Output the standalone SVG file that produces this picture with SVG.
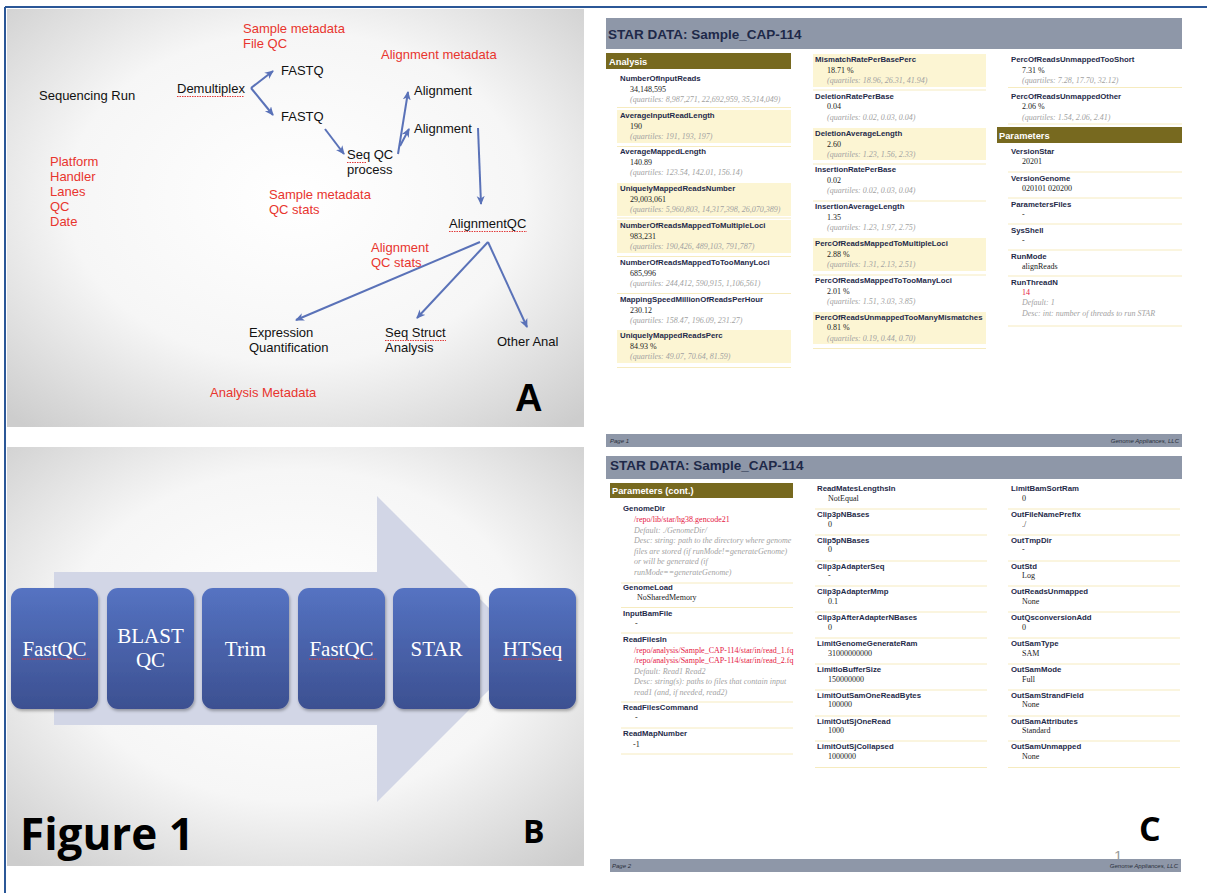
<svg xmlns="http://www.w3.org/2000/svg" width="1207" height="893" viewBox="0 0 1207 893">
<defs>
<radialGradient id="slide" cx="50%" cy="45%" r="72%">
<stop offset="0" stop-color="#ffffff"/>
<stop offset="0.55" stop-color="#f6f6f6"/>
<stop offset="1" stop-color="#cdcdcd"/>
</radialGradient>
<linearGradient id="box" x1="0" y1="0" x2="0" y2="1">
<stop offset="0" stop-color="#5573c2"/>
<stop offset="1" stop-color="#3c5091"/>
</linearGradient>
<marker id="ah" markerUnits="userSpaceOnUse" markerWidth="12" markerHeight="10" refX="8" refY="4" orient="auto">
<path d="M0,0 L9,4 L0,8 L2.5,4 z" fill="#5a72b8"/>
</marker>
<filter id="sh" x="-10%" y="-10%" width="130%" height="130%">
<feDropShadow dx="1" dy="2" stdDeviation="1.5" flood-color="#000" flood-opacity="0.3"/>
</filter>
</defs>
<style>
.ta{font-family:"Liberation Sans",Arial,sans-serif;font-size:13px;fill:#111}
.tr{font-family:"Liberation Sans",Arial,sans-serif;font-size:13px;fill:#e8352e}
.conn{stroke:#5a72b8;stroke-width:2;fill:none;marker-end:url(#ah)}
.sq{stroke:#e23a3a;stroke-width:1;stroke-dasharray:1.5 1;fill:none}
.bx{fill:url(#box);filter:url(#sh)}
.bt{font-family:"Liberation Serif","Times New Roman",serif;font-size:21px;fill:#ffffff;text-anchor:middle}
.big{font-family:"Open Sans","Liberation Sans",sans-serif;font-weight:700;fill:#000}
.bar{fill:#8e97a8}
.ttl{font-family:"Liberation Sans",Arial,sans-serif;font-weight:bold;font-size:13.5px;fill:#1e2949}
.sec{fill:#77691f}
.st{font-family:"Liberation Sans",Arial,sans-serif;font-weight:bold;font-size:9.3px;fill:#ffffff}
.hl{fill:#fcf5d3}
.sep{stroke:#f6ebbf;stroke-width:1}
.l{font-family:"Liberation Sans",Arial,sans-serif;font-weight:bold;font-size:7.8px;fill:#1f2b4a}
.v{font-family:"Liberation Serif","Times New Roman",serif;font-size:8px;fill:#222}
.r{font-family:"Liberation Serif","Times New Roman",serif;font-size:8px;fill:#e5163f}
.q{font-family:"Liberation Serif","Times New Roman",serif;font-style:italic;font-size:8px;fill:#a2a2a2}
.ft{font-family:"Liberation Sans",Arial,sans-serif;font-style:italic;font-size:6px;fill:#2a2f3a}
</style>

<rect x="0" y="0" width="1207" height="893" fill="#ffffff"/>
<line x1="5" y1="7" x2="1207" y2="7" stroke="#2b5797" stroke-width="2"/>
<line x1="5" y1="7" x2="5" y2="893" stroke="#2b5797" stroke-width="2"/>

<!-- Panel A -->
<g id="panelA">
<rect x="7" y="9" width="577" height="418" fill="url(#slide)"/>
<g id="a-sample-meta"><text class="tr" x="243" y="33">Sample metadata</text><text class="tr" x="243" y="48">File QC</text></g>
<g id="a-align-meta"><text class="tr" x="381" y="59">Alignment metadata</text></g>
<g id="a-seqrun"><text class="ta" x="39" y="100">Sequencing Run</text></g>
<g id="a-demux"><text class="ta" x="177" y="93">Demultiplex</text><path class="sq" d="M177,96.5 H244"/></g>
<g id="a-fastq1"><text class="ta" x="281" y="75">FASTQ</text></g>
<g id="a-fastq2"><text class="ta" x="281" y="121">FASTQ</text></g>
<g id="a-align1"><text class="ta" x="414" y="95">Alignment</text></g>
<g id="a-align2"><text class="ta" x="414" y="133">Alignment</text></g>
<g id="a-seqqc"><text class="ta" x="347" y="159">Seq QC</text><text class="ta" x="347" y="174">process</text><path class="sq" d="M347,162.5 H366"/></g>
<g id="a-platform"><text class="tr" x="50" y="166">Platform</text><text class="tr" x="50" y="181">Handler</text><text class="tr" x="50" y="196">Lanes</text><text class="tr" x="50" y="211">QC</text><text class="tr" x="50" y="226">Date</text></g>
<g id="a-sample-qc"><text class="tr" x="269" y="199">Sample metadata</text><text class="tr" x="269" y="214">QC stats</text></g>
<g id="a-alignqc"><text class="ta" x="449" y="228">AlignmentQC</text><path class="sq" d="M449,231.5 H527"/></g>
<g id="a-align-qc-stats"><text class="tr" x="371" y="252">Alignment</text><text class="tr" x="371" y="267">QC stats</text></g>
<g id="a-expr"><text class="ta" x="249" y="337">Expression</text><text class="ta" x="249" y="352">Quantification</text></g>
<g id="a-seqstruct"><text class="ta" x="385" y="337">Seq Struct</text><text class="ta" x="385" y="352">Analysis</text><path class="sq" d="M385,340.5 H446"/></g>
<g id="a-other"><text class="ta" x="497" y="346">Other Anal</text></g>
<g id="a-analysis-meta"><text class="tr" x="210" y="397">Analysis Metadata</text></g>
<text x="515" y="411" font-family="Liberation Sans, Arial, sans-serif" font-weight="bold" font-size="38" fill="#000">A</text>
</g>

<g id="connectors">
<line class="conn" x1="251" y1="88" x2="273" y2="71"/>
<line class="conn" x1="251" y1="88" x2="273" y2="115"/>
<line class="conn" x1="325" y1="129" x2="344" y2="154"/>
<line class="conn" x1="398" y1="154" x2="408" y2="92"/>
<line class="conn" x1="400" y1="146" x2="409" y2="129"/>
<line class="conn" x1="478" y1="128" x2="481" y2="204"/>
<line class="conn" x1="480" y1="242" x2="296" y2="320"/>
<line class="conn" x1="488" y1="242" x2="417" y2="318"/>
<line class="conn" x1="488" y1="242" x2="527" y2="327"/>
</g>

<!-- Panel B -->
<g id="panelB">
<rect x="7" y="447" width="577" height="419" fill="url(#slide)"/>
<polygon points="54,572 377,572 377,496 530,649 377,802 377,725 54,725" fill="#d2d6e6"/>
<g id="b-fastqc1"><rect class="bx" x="11" y="588" width="87" height="121" rx="11"/><text class="bt" x="54.5" y="656">FastQC</text><path class="sq" d="M22,659 H90"/></g>
<g id="b-blast"><rect class="bx" x="107" y="588" width="87" height="121" rx="11"/><text class="bt" x="150.5" y="643">BLAST</text><text class="bt" x="150.5" y="667">QC</text></g>
<g id="b-trim"><rect class="bx" x="202" y="588" width="87" height="121" rx="11"/><text class="bt" x="245.5" y="656">Trim</text></g>
<g id="b-fastqc2"><rect class="bx" x="298" y="588" width="87" height="121" rx="11"/><text class="bt" x="341.5" y="656">FastQC</text><path class="sq" d="M309,659 H377"/></g>
<g id="b-star"><rect class="bx" x="393" y="588" width="87" height="121" rx="11"/><text class="bt" x="436.5" y="656">STAR</text></g>
<g id="b-htseq"><rect class="bx" x="489" y="588" width="87" height="121" rx="11"/><text class="bt" x="532.5" y="656">HTSeq</text><path class="sq" d="M503,659 H563"/></g>
<text class="big" x="20" y="850" font-size="44">Figure 1</text>
<text class="big" x="523" y="843" font-size="32">B</text>
</g>

<!-- Panel C page 1 -->
<g id="panelC">
<rect class="bar" x="606" y="18" width="576" height="31"/>
<text class="ttl" x="608" y="39">STAR DATA: Sample_CAP-114</text>
<rect class="sec" x="606" y="53" width="185" height="16"/>
<text class="st" x="609" y="64.5">Analysis</text>

<g id="c1">
<rect class="hl" x="617" y="110" width="174" height="33"/>
<rect class="hl" x="617" y="183" width="174" height="33"/>
<rect class="hl" x="617" y="220" width="174" height="33"/>
<rect class="hl" x="617" y="330" width="174" height="33"/>
<line class="sep" x1="617" y1="107.5" x2="791" y2="107.5"/>
<line class="sep" x1="617" y1="146.5" x2="791" y2="146.5"/>
<line class="sep" x1="617" y1="218" x2="791" y2="218"/>
<line class="sep" x1="617" y1="256.5" x2="791" y2="256.5"/>
<line class="sep" x1="617" y1="293.5" x2="791" y2="293.5"/>
<line class="sep" x1="617" y1="367.5" x2="791" y2="367.5"/>
<text class="l" x="620" y="81">NumberOfInputReads</text><text class="v" x="630" y="91.5">34,148,595</text><text class="q" x="630" y="102">(quartiles: 8,987,271, 22,692,959, 35,314,049)</text>
<text class="l" x="620" y="118">AverageInputReadLength</text><text class="v" x="630" y="128.5">190</text><text class="q" x="630" y="139">(quartiles: 191, 193, 197)</text>
<text class="l" x="620" y="154">AverageMappedLength</text><text class="v" x="630" y="164.5">140.89</text><text class="q" x="630" y="175">(quartiles: 123.54, 142.01, 156.14)</text>
<text class="l" x="620" y="191">UniquelyMappedReadsNumber</text><text class="v" x="630" y="201.5">29,003,061</text><text class="q" x="630" y="212">(quartiles: 5,960,803, 14,317,398, 26,070,389)</text>
<text class="l" x="620" y="228">NumberOfReadsMappedToMultipleLoci</text><text class="v" x="630" y="238.5">983,231</text><text class="q" x="630" y="249">(quartiles: 190,426, 489,103, 791,787)</text>
<text class="l" x="620" y="265">NumberOfReadsMappedToTooManyLoci</text><text class="v" x="630" y="275.5">685,996</text><text class="q" x="630" y="286">(quartiles: 244,412, 590,915, 1,106,561)</text>
<text class="l" x="620" y="302">MappingSpeedMillionOfReadsPerHour</text><text class="v" x="630" y="312.5">230.12</text><text class="q" x="630" y="323">(quartiles: 158.47, 196.09, 231.27)</text>
<text class="l" x="620" y="338">UniquelyMappedReadsPerc</text><text class="v" x="630" y="348.5">84.93 %</text><text class="q" x="630" y="359">(quartiles: 49.07, 70.64, 81.59)</text>
</g>

<g id="c2">
<rect class="hl" x="813" y="54" width="173" height="33"/>
<rect class="hl" x="813" y="128" width="173" height="32"/>
<rect class="hl" x="813" y="238" width="173" height="33"/>
<rect class="hl" x="813" y="312" width="173" height="32"/>
<line class="sep" x1="813" y1="90" x2="986" y2="90"/>
<line class="sep" x1="813" y1="164" x2="986" y2="164"/>
<line class="sep" x1="813" y1="201" x2="986" y2="201"/>
<line class="sep" x1="813" y1="275" x2="986" y2="275"/>
<line class="sep" x1="813" y1="348.5" x2="986" y2="348.5"/>
<text class="l" x="815" y="62">MismatchRatePerBasePerc</text><text class="v" x="827" y="72.5">18.71 %</text><text class="q" x="827" y="83">(quartiles: 18.96, 26.31, 41.94)</text>
<text class="l" x="815" y="98.5">DeletionRatePerBase</text><text class="v" x="827" y="109">0.04</text><text class="q" x="827" y="119.5">(quartiles: 0.02, 0.03, 0.04)</text>
<text class="l" x="815" y="136">DeletionAverageLength</text><text class="v" x="827" y="146.5">2.60</text><text class="q" x="827" y="157">(quartiles: 1.23, 1.56, 2.33)</text>
<text class="l" x="815" y="172">InsertionRatePerBase</text><text class="v" x="827" y="182.5">0.02</text><text class="q" x="827" y="193">(quartiles: 0.02, 0.03, 0.04)</text>
<text class="l" x="815" y="209">InsertionAverageLength</text><text class="v" x="827" y="219.5">1.35</text><text class="q" x="827" y="230">(quartiles: 1.23, 1.97, 2.75)</text>
<text class="l" x="815" y="246">PercOfReadsMappedToMultipleLoci</text><text class="v" x="827" y="256.5">2.88 %</text><text class="q" x="827" y="267">(quartiles: 1.31, 2.13, 2.51)</text>
<text class="l" x="815" y="283">PercOfReadsMappedToTooManyLoci</text><text class="v" x="827" y="293.5">2.01 %</text><text class="q" x="827" y="304">(quartiles: 1.51, 3.03, 3.85)</text>
<text class="l" x="815" y="319.5">PercOfReadsUnmappedTooManyMismatches</text><text class="v" x="827" y="330">0.81 %</text><text class="q" x="827" y="340.5">(quartiles: 0.19, 0.44, 0.70)</text>
</g>

<g id="c3">
<line class="sep" x1="1008" y1="87.5" x2="1182" y2="87.5"/>
<line class="sep" x1="1008" y1="124" x2="1182" y2="124"/>
<line class="sep" x1="1008" y1="172" x2="1182" y2="172"/>
<line class="sep" x1="1008" y1="198" x2="1182" y2="198"/>
<line class="sep" x1="1008" y1="224" x2="1182" y2="224"/>
<line class="sep" x1="1008" y1="250" x2="1182" y2="250"/>
<line class="sep" x1="1008" y1="276" x2="1182" y2="276"/>
<line class="sep" x1="1008" y1="326" x2="1182" y2="326"/>
<text class="l" x="1011" y="62">PercOfReadsUnmappedTooShort</text><text class="v" x="1022" y="72.5">7.31 %</text><text class="q" x="1022" y="83">(quartiles: 7.28, 17.70, 32.12)</text>
<text class="l" x="1011" y="98.5">PercOfReadsUnmappedOther</text><text class="v" x="1022" y="109">2.06 %</text><text class="q" x="1022" y="119.5">(quartiles: 1.54, 2.06, 2.41)</text>
<rect class="sec" x="997" y="127" width="185" height="16"/>
<text class="st" x="999" y="138.5">Parameters</text>
<text class="l" x="1011" y="154">VersionStar</text><text class="v" x="1022" y="164">20201</text>
<text class="l" x="1011" y="181">VersionGenome</text><text class="v" x="1022" y="191">020101 020200</text>
<text class="l" x="1011" y="207">ParametersFiles</text><text class="v" x="1022" y="217">-</text>
<text class="l" x="1011" y="232.5">SysShell</text><text class="v" x="1022" y="242.5">-</text>
<text class="l" x="1011" y="258.5">RunMode</text><text class="v" x="1022" y="268.5">alignReads</text>
<text class="l" x="1011" y="284.5">RunThreadN</text><text class="r" x="1022" y="294.5">14</text><text class="q" x="1022" y="305">Default: 1</text><text class="q" x="1022" y="315.5">Desc: int: number of threads to run STAR</text>
</g>

<rect class="bar" x="606" y="434" width="576" height="13"/>
<text class="ft" x="610" y="443">Page 1</text>
<text class="ft" x="1179" y="443" text-anchor="end">Genome Appliances, LLC</text>

<!-- page 2 -->
<rect class="bar" x="606" y="456" width="576" height="23"/>
<text class="ttl" x="610" y="470">STAR DATA: Sample_CAP-114</text>
<rect class="sec" x="610" y="483" width="183" height="15"/>
<text class="st" x="612" y="494">Parameters (cont.)</text>

<g id="c4">
<line class="sep" x1="621" y1="583" x2="793" y2="583"/>
<line class="sep" x1="621" y1="607.5" x2="793" y2="607.5"/>
<line class="sep" x1="621" y1="633" x2="793" y2="633"/>
<line class="sep" x1="621" y1="702" x2="793" y2="702"/>
<line class="sep" x1="621" y1="728" x2="793" y2="728"/>
<line class="sep" x1="621" y1="754" x2="793" y2="754"/>
<text class="l" x="623" y="511">GenomeDir</text>
<text class="r" x="634" y="522">/repo/lib/star/hg38.gencode21</text>
<text class="q" x="634" y="532.5">Default: ./GenomeDir/</text>
<text class="q" x="634" y="543">Desc: string: path to the directory where genome</text>
<text class="q" x="634" y="553.5">files are stored (if runMode!=generateGenome)</text>
<text class="q" x="634" y="564">or will be generated (if</text>
<text class="q" x="634" y="574.5">runMode==generateGenome)</text>
<text class="l" x="623" y="590">GenomeLoad</text><text class="v" x="637" y="600">NoSharedMemory</text>
<text class="l" x="623" y="616">InputBamFile</text><text class="v" x="635" y="625.5">-</text>
<text class="l" x="623" y="642">ReadFilesIn</text>
<text class="r" x="634" y="652.5">/repo/analysis/Sample_CAP-114/star/in/read_1.fq</text>
<text class="r" x="634" y="663">/repo/analysis/Sample_CAP-114/star/in/read_2.fq</text>
<text class="q" x="634" y="673.5">Default: Read1 Read2</text>
<text class="q" x="634" y="684">Desc: string(s): paths to files that contain input</text>
<text class="q" x="634" y="694.5">read1 (and, if needed, read2)</text>
<text class="l" x="623" y="710">ReadFilesCommand</text><text class="v" x="635" y="719.5">-</text>
<text class="l" x="623" y="736">ReadMapNumber</text><text class="v" x="633" y="746.5">-1</text>
</g>

<g id="c5">
<line class="sep" x1="815" y1="509" x2="987" y2="509"/>
<line class="sep" x1="815" y1="535" x2="987" y2="535"/>
<line class="sep" x1="815" y1="561" x2="987" y2="561"/>
<line class="sep" x1="815" y1="586" x2="987" y2="586"/>
<line class="sep" x1="815" y1="612" x2="987" y2="612"/>
<line class="sep" x1="815" y1="638" x2="987" y2="638"/>
<line class="sep" x1="815" y1="664" x2="987" y2="664"/>
<line class="sep" x1="815" y1="690" x2="987" y2="690"/>
<line class="sep" x1="815" y1="716" x2="987" y2="716"/>
<line class="sep" x1="815" y1="741" x2="987" y2="741"/>
<line class="sep" x1="815" y1="767.5" x2="987" y2="767.5"/>
<text class="l" x="817" y="491">ReadMatesLengthsIn</text><text class="v" x="828" y="500.5">NotEqual</text>
<text class="l" x="817" y="517">Clip3pNBases</text><text class="v" x="828" y="526.5">0</text>
<text class="l" x="817" y="542.5">Clip5pNBases</text><text class="v" x="828" y="552">0</text>
<text class="l" x="817" y="568.5">Clip3pAdapterSeq</text><text class="v" x="828" y="578">-</text>
<text class="l" x="817" y="594">Clip3pAdapterMmp</text><text class="v" x="828" y="603.5">0.1</text>
<text class="l" x="817" y="620">Clip3pAfterAdapterNBases</text><text class="v" x="828" y="629.5">0</text>
<text class="l" x="817" y="646">LimitGenomeGenerateRam</text><text class="v" x="828" y="655.5">31000000000</text>
<text class="l" x="817" y="672">LimitIoBufferSize</text><text class="v" x="828" y="681.5">150000000</text>
<text class="l" x="817" y="697.5">LimitOutSamOneReadBytes</text><text class="v" x="828" y="707">100000</text>
<text class="l" x="817" y="723.5">LimitOutSjOneRead</text><text class="v" x="828" y="733">1000</text>
<text class="l" x="817" y="749">LimitOutSjCollapsed</text><text class="v" x="828" y="758.5">1000000</text>
</g>

<g id="c6">
<line class="sep" x1="1008" y1="509" x2="1180" y2="509"/>
<line class="sep" x1="1008" y1="535" x2="1180" y2="535"/>
<line class="sep" x1="1008" y1="561" x2="1180" y2="561"/>
<line class="sep" x1="1008" y1="586" x2="1180" y2="586"/>
<line class="sep" x1="1008" y1="612" x2="1180" y2="612"/>
<line class="sep" x1="1008" y1="638" x2="1180" y2="638"/>
<line class="sep" x1="1008" y1="664" x2="1180" y2="664"/>
<line class="sep" x1="1008" y1="690" x2="1180" y2="690"/>
<line class="sep" x1="1008" y1="716" x2="1180" y2="716"/>
<line class="sep" x1="1008" y1="741" x2="1180" y2="741"/>
<line class="sep" x1="1008" y1="767.5" x2="1180" y2="767.5"/>
<text class="l" x="1011" y="491">LimitBamSortRam</text><text class="v" x="1022" y="500.5">0</text>
<text class="l" x="1011" y="517">OutFileNamePrefix</text><text class="v" x="1022" y="526.5">./</text>
<text class="l" x="1011" y="542.5">OutTmpDir</text><text class="v" x="1022" y="552">-</text>
<text class="l" x="1011" y="568.5">OutStd</text><text class="v" x="1022" y="578">Log</text>
<text class="l" x="1011" y="594">OutReadsUnmapped</text><text class="v" x="1022" y="603.5">None</text>
<text class="l" x="1011" y="620">OutQsconversionAdd</text><text class="v" x="1022" y="629.5">0</text>
<text class="l" x="1011" y="646">OutSamType</text><text class="v" x="1022" y="655.5">SAM</text>
<text class="l" x="1011" y="672">OutSamMode</text><text class="v" x="1022" y="681.5">Full</text>
<text class="l" x="1011" y="697.5">OutSamStrandField</text><text class="v" x="1022" y="707">None</text>
<text class="l" x="1011" y="723.5">OutSamAttributes</text><text class="v" x="1022" y="733">Standard</text>
<text class="l" x="1011" y="749">OutSamUnmapped</text><text class="v" x="1022" y="758.5">None</text>
</g>

<text class="big" x="1139" y="841" font-size="34">C</text>
<text x="1114" y="861" font-family="Liberation Sans, Arial, sans-serif" font-size="15" fill="#9a9a9a">1</text>
<rect class="bar" x="610" y="859" width="571" height="13"/>
<text class="ft" x="612" y="868">Page 2</text>
<text class="ft" x="1178" y="868" text-anchor="end">Genome Appliances, LLC</text>
</g>
</svg>
